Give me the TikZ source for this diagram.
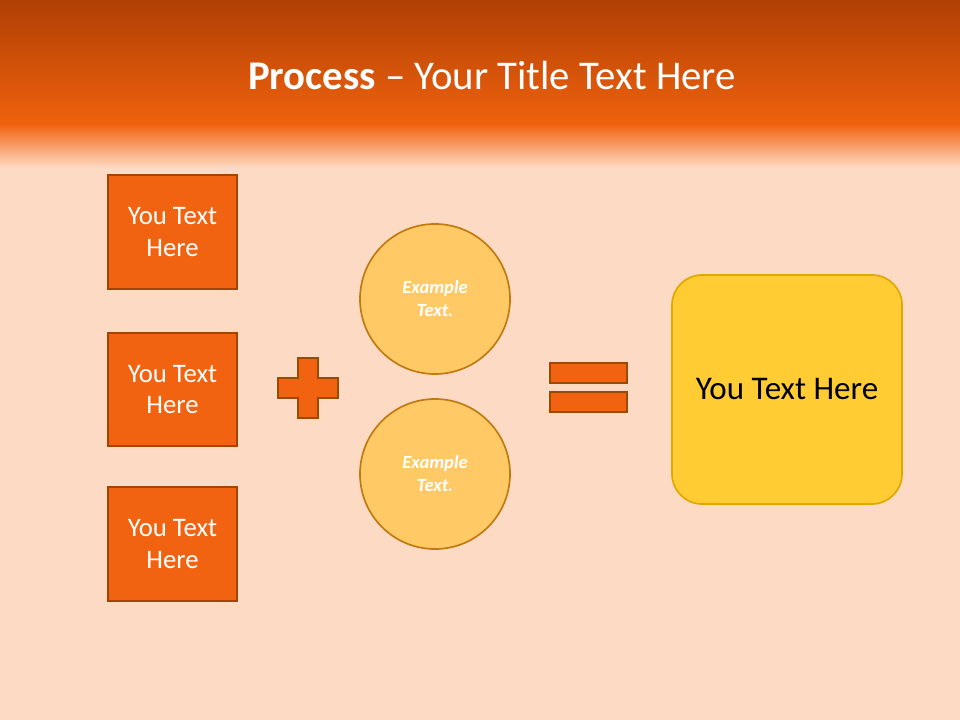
\documentclass[tikz,border=0pt]{standalone}
\usepackage{fontspec}
\setmainfont{Carlito}
\begin{document}
\begin{tikzpicture}[x=0.025cm,y=-0.025cm,
 obox/.style={draw=orange!60!black!90!red,line width=1.2pt,fill=orangeF,text=white,font=\fontsize{19}{22.7}\selectfont,align=center},
 circ/.style={circle,draw=circB,line width=1.2pt,fill=circF,text=white,font=\fontsize{13.2}{16.3}\selectfont\bfseries\itshape,align=center,minimum size=150*0.025cm,inner sep=0pt},
 sym/.style={draw=orange!60!black,line width=1pt,fill=orangeF}]
\definecolor{orangeF}{RGB}{242,99,17}
\definecolor{circF}{RGB}{255,201,102}
\definecolor{circB}{RGB}{192,122,16}
\definecolor{peach}{RGB}{253,218,196}
\definecolor{topA}{RGB}{176,64,4}
\definecolor{topB}{RGB}{240,98,14}
\useasboundingbox (0,0) rectangle (960,720);
\fill[peach] (0,0) rectangle (960,720);
\shade[top color=topA,bottom color=topB] (0,0) rectangle (960,125);
\shade[top color=topB,bottom color=peach] (0,124) rectangle (960,168);
\node[text=white,font=\fontsize{29}{34}\selectfont] (title) at (492,75) {\textbf{Process} -- Your Title Text Here};
\node[obox,minimum width=129*0.025cm,minimum height=114*0.025cm] (b1) at (172.5,232) {You Text\\Here};
\node[obox,minimum width=129*0.025cm,minimum height=113*0.025cm] (b2) at (172.5,389.5) {You Text\\Here};
\node[obox,minimum width=129*0.025cm,minimum height=114*0.025cm] (b3) at (172.5,544) {You Text\\Here};
\draw[sym] (298,358) -- (318,358) -- (318,378) -- (338,378) -- (338,398) -- (318,398) -- (318,418) -- (298,418) -- (298,398) -- (278,398) -- (278,378) -- (298,378) -- cycle;
\node[circ] (c1) at (435,299) {Example\\Text.};
\node[circ] (c2) at (435,474) {Example\\Text.};
\draw[sym] (550,363) rectangle (627,383);
\draw[sym] (550,392) rectangle (627,412);
\node[draw={rgb,255:red,224;green,168;blue,0},line width=1.2pt,fill={rgb,255:red,255;green,204;blue,51},rounded corners=0.75cm,minimum width=230*0.025cm,minimum height=229*0.025cm,font=\fontsize{23.5}{28}\selectfont] (r) at (787,389.5) {You Text Here};
\end{tikzpicture}
\end{document}
